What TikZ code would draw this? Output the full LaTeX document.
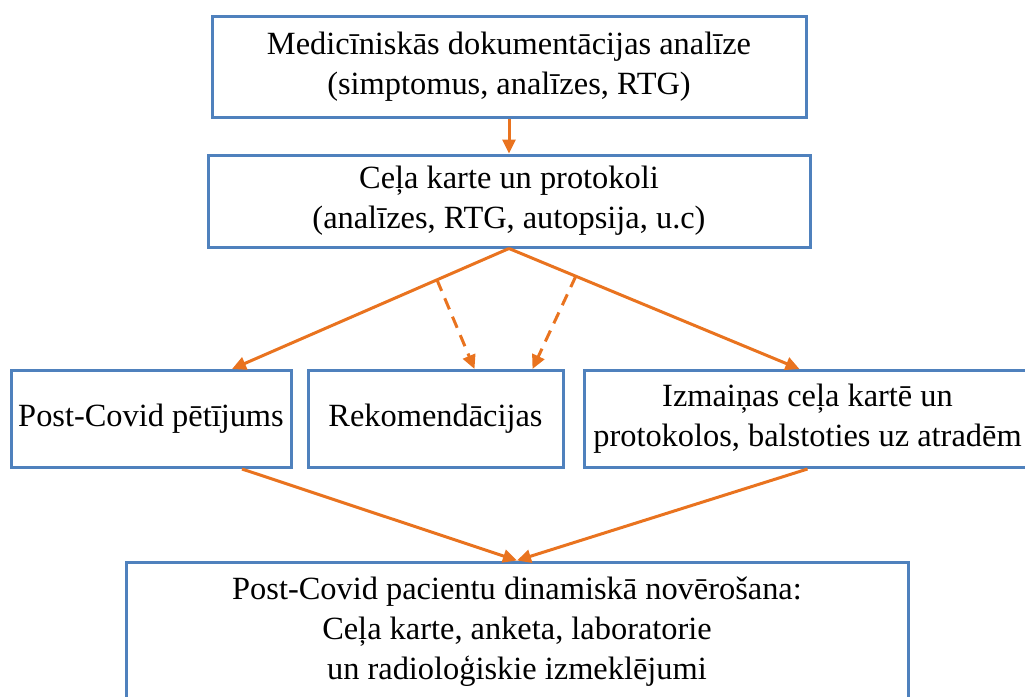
\documentclass[tikz,border=0pt]{standalone}
\usepackage{fontspec}
\setmainfont{Liberation Serif}
\usepackage{xcolor}
\usetikzlibrary{arrows.meta}
\definecolor{boxblue}{HTML}{4F81BD}
\definecolor{arrorange}{HTML}{E9731F}

\begin{document}
\begin{tikzpicture}[x=0.5pt,y=-0.5pt,
        box/.style={draw=boxblue,line width=1.5pt,align=center,inner sep=0pt,
          font=\fontsize{16.2}{20}\selectfont},
        arr/.style={draw=arrorange,line width=1.5pt,-{Triangle[length=7pt,width=6.5pt]}},
        dasharr/.style={arr,dash pattern=on 6pt off 4pt}]
        \useasboundingbox (0,0) rectangle (1025,697);

        % draw boxes
        \node[box,minimum width=297pt,minimum height=50.5pt] (docum) at (509,66.5) {Medicīniskās dokumentācijas analīze\\(simptomus, analīzes, RTG)};
        \node[box,minimum width=301pt,minimum height=46pt] (karte) at (509,201) {Ceļa karte un protokoli\\(analīzes, RTG, autopsija, u.c)};
        \node[box,minimum width=140pt,minimum height=48.5pt] (petij) at (151,419) {Post-Covid pētījums};
        \node[box,minimum width=127.5pt,minimum height=48.5pt] (rekom) at (435.5,419) {Rekomendācijas};
        \node[box,minimum width=223.5pt,minimum height=48.5pt] (izmain) at (807.5,419) {Izmaiņas ceļa kartē un\\protokolos, balstoties uz atradēm};
        \node[box,minimum width=391pt,minimum height=70pt] (novero) at (517,632) {Post-Covid pacientu dinamiskā novērošana:\\Ceļa karte, anketa, laboratorie\\un radioloģiskie izmeklējumi};

        % draw arrows
        \draw[arr] (docum.south) -- (karte.north);
        \draw[arr] (karte.south) -- coordinate[pos=0.26] (dleft) ([xshift=40.5pt]petij.north);
        \draw[arr] (karte.south) -- coordinate[pos=0.23] (dright) ([xshift=-4pt]izmain.north);
        \draw[dasharr] (dleft) -- ([xshift=19.5pt]rekom.north);
        \draw[dasharr] (dright) -- ([xshift=48.5pt]rekom.north);
        \draw[arr] ([xshift=45.5pt]petij.south) -- (novero.north);
        \draw[arr] (izmain.south) -- (novero.north);
\end{tikzpicture}
\end{document}
